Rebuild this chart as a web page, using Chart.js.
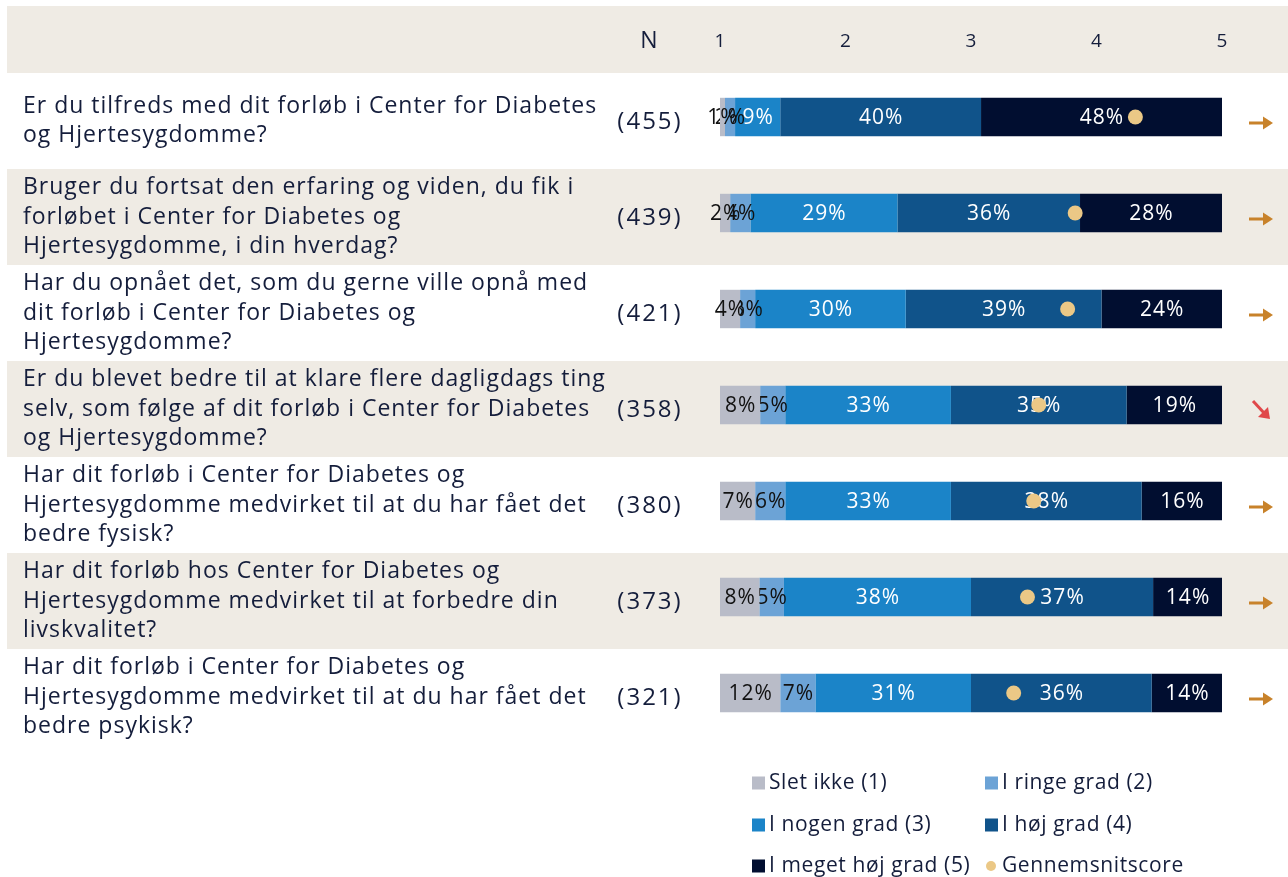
<!DOCTYPE html>
<html><head><meta charset="utf-8">
<script src="https://cdn.jsdelivr.net/npm/chart.js@4/dist/chart.umd.min.js"></script>
<style>html,body{margin:0;padding:0;background:#fff;}#wrap{width:1288px;height:877px;position:relative;}</style>
</head><body><div id="wrap"><canvas id="c" width="1288" height="877"></canvas></div>
<script>
// ---- data ----
const questions = [
  ["Er du tilfreds med dit forløb i Center for Diabetes", "og Hjertesygdomme?"],
  ["Bruger du fortsat den erfaring og viden, du fik i", "forløbet i Center for Diabetes og", "Hjertesygdomme, i din hverdag?"],
  ["Har du opnået det, som du gerne ville opnå med", "dit forløb i Center for Diabetes og", "Hjertesygdomme?"],
  ["Er du blevet bedre til at klare flere dagligdags ting", "selv, som følge af dit forløb i Center for Diabetes", "og Hjertesygdomme?"],
  ["Har dit forløb i Center for Diabetes og", "Hjertesygdomme medvirket til at du har fået det", "bedre fysisk?"],
  ["Har dit forløb hos Center for Diabetes og", "Hjertesygdomme medvirket til at forbedre din", "livskvalitet?"],
  ["Har dit forløb i Center for Diabetes og", "Hjertesygdomme medvirket til at du har fået det", "bedre psykisk?"]
];
const nValues      = [455, 439, 421, 358, 380, 373, 321];
const sletIkke     = [1, 2, 4, 8, 7, 8, 12];
const ringeGrad    = [2, 4, 3, 5, 6, 5, 7];
const nogenGrad    = [9, 29, 30, 33, 33, 38, 31];
const hojGrad      = [40, 36, 39, 35, 38, 37, 36];
const megetHojGrad = [48, 28, 24, 19, 16, 14, 14];
const meanScore    = [4.31, 3.83, 3.77, 3.54, 3.50, 3.45, 3.34];
const trend        = ["flat", "flat", "flat", "down", "flat", "flat", "flat"];
const scaleTicks   = [1, 2, 3, 4, 5];
const seriesNames  = ["Slet ikke (1)", "I ringe grad (2)", "I nogen grad (3)", "I høj grad (4)", "I meget høj grad (5)"];
const meanName     = "Gennemsnitscore";
const nHeader      = "N";

// ---- styles ----
const seriesColors = ["#b9bcc8", "#6ca3d6", "#1b84c8", "#10538a", "#010e30"];
const labelColors  = ["#111111", "#111111", "#ffffff", "#ffffff", "#ffffff"];
const dotColor = "#ebc886";
const beige = "#efebe4";
const ink = "#141d3b";
const FONT = "'Open Sans', 'Noto Sans', sans-serif";

const series = [sletIkke, ringeGrad, nogenGrad, hojGrad, megetHojGrad];
const rowSums = questions.map((q, i) => series.reduce((s, arr) => s + arr[i], 0));
const catLabels = questions.map(q => q.join(" "));

const datasets = series.map((arr, k) => ({
  type: "bar",
  label: seriesNames[k],
  data: arr.map((v, i) => v / rowSums[i] * 100),
  backgroundColor: seriesColors[k],
  borderWidth: 0,
  xAxisID: "x",
  yAxisID: "y",
  barPercentage: 0.4,
  categoryPercentage: 1.0,
  order: 1
}));
datasets.push({
  type: "scatter",
  label: meanName,
  data: meanScore.map((m, i) => ({ x: m, y: i })),
  xAxisID: "x2",
  yAxisID: "y",
  backgroundColor: dotColor,
  borderWidth: 0,
  pointRadius: 7.5,
  showLine: false,
  indexAxis: "y",
  order: 0
});

function setSpacing(ctx, px) { if ("letterSpacing" in ctx) ctx.letterSpacing = px + "px"; }

const layoutPlugin = {
  id: "layoutPlugin",
  beforeDraw(chart) {
    const ctx = chart.ctx, y = chart.scales.y, x2 = chart.scales.x2;
    const band = y.getPixelForValue(1) - y.getPixelForValue(0);
    ctx.save();
    ctx.fillStyle = "#ffffff";
    ctx.fillRect(0, 0, chart.width, chart.height);
    ctx.fillStyle = beige;
    const top0 = y.getPixelForValue(0) - band * 0.458;
    ctx.fillRect(7, 6, chart.width - 7, top0 - 6);
    questions.forEach((q, i) => {
      if (i % 2 === 1) {
        const c = y.getPixelForValue(i);
        ctx.fillRect(7, c - band * 0.458, chart.width - 7, band);
      }
    });
    // header
    ctx.fillStyle = ink;
    ctx.textBaseline = "middle";
    ctx.textAlign = "center";
    setSpacing(ctx, 0);
    ctx.font = "23px " + FONT;
    ctx.fillText(nHeader, 649, 41);
    ctx.font = "19px " + FONT;
    scaleTicks.forEach(t => ctx.fillText(String(t), x2.getPixelForValue(t), 42));
    // question texts and N
    questions.forEach((q, i) => {
      const mid = y.getPixelForValue(i) + 4;
      const lh = 29.5;
      ctx.fillStyle = ink;
      ctx.textAlign = "left";
      ctx.font = "23px " + FONT;
      setSpacing(ctx, 1);
      q.forEach((line, j) => {
        ctx.fillText(line, 23, mid + (j - (q.length - 1) / 2) * lh);
      });
      ctx.textAlign = "center";
      ctx.font = "24px " + FONT;
      setSpacing(ctx, 2);
      ctx.fillText("(" + nValues[i] + ")", 650, mid + 1);
      setSpacing(ctx, 0);
      // trend arrows
      const ax = 1249, ay = y.getPixelForValue(i) + 6;
      if (trend[i] === "flat") {
        ctx.fillStyle = "#c8822a";
        ctx.fillRect(ax, ay - 1.5, 16, 3);
        ctx.beginPath();
        ctx.moveTo(ax + 14, ay - 6.5);
        ctx.lineTo(ax + 24, ay);
        ctx.lineTo(ax + 14, ay + 6.5);
        ctx.closePath();
        ctx.fill();
      } else {
        ctx.strokeStyle = "#e0484a";
        ctx.fillStyle = "#e0484a";
        ctx.lineWidth = 3;
        ctx.beginPath();
        ctx.moveTo(ax + 4, ay - 10);
        ctx.lineTo(ax + 16, ay + 3);
        ctx.stroke();
        ctx.beginPath();
        ctx.moveTo(ax + 21, ay + 8);
        ctx.lineTo(ax + 9, ay + 6);
        ctx.lineTo(ax + 19, ay - 4);
        ctx.closePath();
        ctx.fill();
      }
    });
    // legend
    const legendItems = seriesNames.map((n, k) => ({ text: n, color: seriesColors[k], dot: false }));
    legendItems.push({ text: meanName, color: dotColor, dot: true });
    const cols = [752, 985], rows = [783, 825, 866];
    ctx.font = "21px " + FONT;
    setSpacing(ctx, 0.6);
    ctx.textAlign = "left";
    legendItems.forEach((it, k) => {
      const lx = cols[k % 2], ly = rows[Math.floor(k / 2)];
      ctx.fillStyle = it.color;
      if (it.dot) {
        ctx.beginPath(); ctx.arc(lx + 6, ly, 5, 0, Math.PI * 2); ctx.fill();
      } else {
        ctx.fillRect(lx, ly - 6.5, 13, 13);
      }
      ctx.fillStyle = ink;
      ctx.fillText(it.text, lx + 17, ly);
    });
    ctx.restore();
  },
  afterDatasetDraw(chart, args) {
    if (args.index > 4) return;
    const ctx = chart.ctx;
    const arr = series[args.index];
    ctx.save();
    ctx.font = "21px " + FONT;
    setSpacing(ctx, 1);
    ctx.textAlign = "center";
    ctx.textBaseline = "middle";
    ctx.fillStyle = labelColors[args.index];
    args.meta.data.forEach((el, i) => {
      const p = el.getCenterPoint();
      ctx.fillText(arr[i] + "%", p.x + 0.5, p.y + 1);
    });
    ctx.restore();
  }
};

new Chart(document.getElementById("c"), {
  type: "bar",
  data: { labels: catLabels, datasets },
  options: {
    indexAxis: "y",
    responsive: false,
    animation: false,
    layout: { padding: { left: 720, right: 66, top: 69, bottom: 136 } },
    plugins: { legend: { display: false }, tooltip: { enabled: false } },
    scales: {
      x: { type: "linear", min: 0, max: 100, stacked: true, display: false },
      x2: { type: "linear", min: 1, max: 5, display: false },
      y: { type: "category", stacked: true, display: false, offset: true }
    }
  },
  plugins: [layoutPlugin]
});
</script>
</body></html>
